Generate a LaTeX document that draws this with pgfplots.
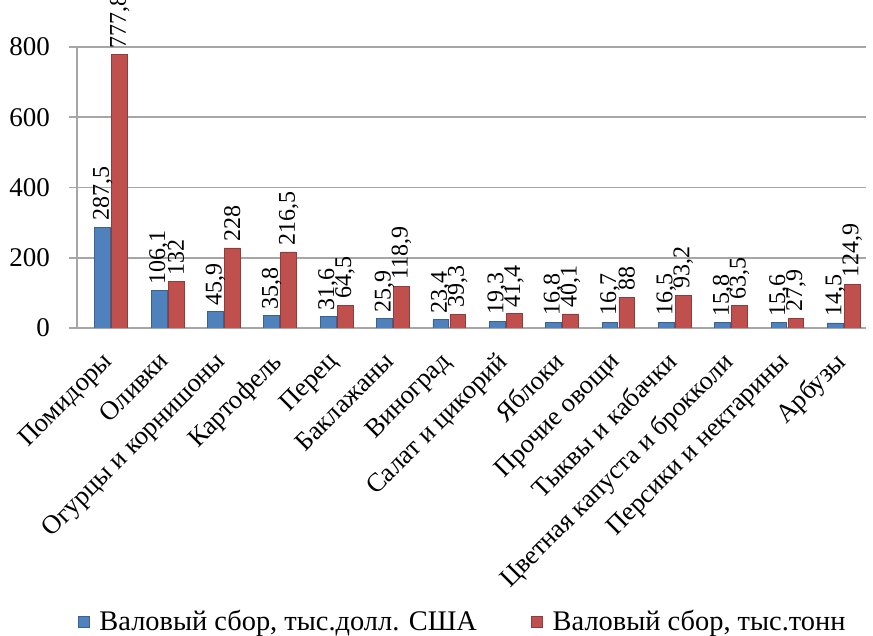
\documentclass[border=0pt]{standalone}
\usepackage{pgfplots}
\pgfplotsset{compat=1.18}
\usepackage{fontspec}
\setmainfont{Liberation Serif}
\definecolor{sblue}{HTML}{4F81BD}
\definecolor{sred}{HTML}{C0504D}
\definecolor{gridg}{HTML}{A6A6A6}
\begin{document}
\begin{tikzpicture}
\path[use as bounding box] (0,0) rectangle (436.5pt,318pt);
\begin{axis}[
  at={(38.5pt,154pt)}, anchor=south west,
  scale only axis, width=394.5pt, height=140.5pt,
  xmin=-0.5, xmax=13.5, ymin=0, ymax=800,
  axis lines*=left,
  axis line style={gridg, line width=0.8pt},
  ytick={0,200,400,600,800},
  ymajorgrids, grid style={gridg, line width=0.8pt},
  xtick={0,...,13},
  xticklabels={Помидоры,Оливки,Огурцы и корнишоны,Картофель,Перец,Баклажаны,Виноград,Салат и цикорий,Яблоки,Прочие овощи,Тыквы и кабачки,Цветная капуста и брокколи,Персики и нектарины,Арбузы},
  x tick label style={xshift=-2pt, yshift=-7pt, rotate=45, anchor=north east, font=\fontsize{13.2}{15}\selectfont, inner sep=0pt},
  y tick label style={xshift=-6pt, font=\fontsize{13.5}{16}\selectfont},
  /pgf/number format/assume math mode=true,
  xtick style={draw=none},
  minor xtick={-0.5,0.5,...,13.5},
  minor tick length=5pt,
  minor x tick style={gridg, line width=0.8pt},
  ytick style={gridg, line width=0.8pt},
  major tick length=4pt,
  tick align=outside,
  ybar, bar width=0.28,
  nodes near coords,
  every node near coord/.append style={rotate=90, anchor=west, font=\fontsize{12}{14}\selectfont, inner sep=1pt, xshift=2pt,
    /pgf/number format/.cd, use comma, fixed, precision=1, assume math mode=true},
  legend style={at={(0.49,-1.046)}, anchor=center, draw=none, legend columns=2,
    font=\fontsize{14.2}{16}\selectfont, /tikz/every even column/.append style={column sep=25pt}},
  legend image code/.code={\fill[#1] (0pt,-2.5pt) rectangle (5.5pt,3pt); \path (8.5pt,0pt);},
]
\addplot[draw=sblue!75!black, fill=sblue, bar shift=-0.044] coordinates {
(0,287.5) (1,106.1) (2,45.9) (3,35.8) (4,31.6) (5,25.9) (6,23.4) (7,19.3) (8,16.8) (9,16.7) (10,16.5) (11,15.8) (12,15.6) (13,14.5)};
\addplot[draw=sred!75!black, fill=sred, bar shift=0.257] coordinates {
(0,777.8) (1,132) (2,228) (3,216.5) (4,64.5) (5,118.9) (6,39.3) (7,41.4) (8,40.1) (9,88) (10,93.2) (11,63.5) (12,27.9) (13,124.9)};
\legend{{Валовый сбор, тыс.долл. США}, {Валовый сбор, тыс.тонн}}
\end{axis}
\end{tikzpicture}
\end{document}
